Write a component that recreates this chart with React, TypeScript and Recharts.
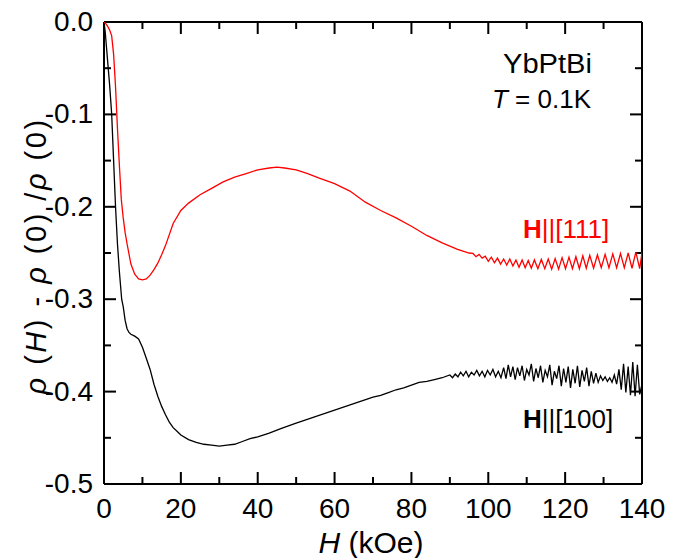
import React from 'react';
import { LineChart, Line, XAxis, YAxis, Customized, ReferenceLine } from 'recharts';

// H || [111] (red)
const redField = [
  0, 0.5, 1, 1.5, 2, 2.5, 3, 3.5, 4, 4.5, 5, 5.5, 6, 7, 8, 9, 10, 11, 12, 13, 14, 15, 16, 18, 20, 22, 25, 28, 31, 34, 37, 40, 43, 45, 47, 50, 53, 56, 60, 64, 68, 72, 76, 80, 84, 88, 92, 95,
  96, 96.8, 97.6, 98.4, 99.2, 100, 100.8, 101.6, 102.4, 103.2, 104, 104.8, 105.6, 106.4, 107.2, 108, 108.8, 109.6, 110.4, 111.2, 112,
  112.9, 113.8, 114.7, 115.6, 116.5, 117.4, 118.3, 119.2, 120.1, 121, 121.9, 122.8, 123.7, 124.6, 125.5, 126.4,
  127.4, 128.4, 129.4, 130.4, 131.4, 132.4, 133.4, 134.4, 135.4, 136.4, 137.4, 138.4, 139.4, 140,
];
const redRho = [
  0, -0.002, -0.005, -0.009, -0.015, -0.035, -0.07, -0.115, -0.155, -0.192, -0.212, -0.228, -0.24, -0.262, -0.273, -0.278, -0.279, -0.278, -0.274, -0.268, -0.261, -0.252, -0.242, -0.218, -0.204, -0.196, -0.187, -0.18, -0.173, -0.168, -0.164, -0.16, -0.158, -0.157, -0.158, -0.16, -0.164, -0.169, -0.175, -0.183, -0.195, -0.204, -0.212, -0.221, -0.231, -0.239, -0.246, -0.25,
  -0.2505, -0.254, -0.2515, -0.2555, -0.2535, -0.259, -0.2545, -0.2605, -0.2555, -0.262, -0.2565, -0.263, -0.2565, -0.264, -0.2575, -0.2655, -0.2575, -0.266, -0.258, -0.2665, -0.2575,
  -0.267, -0.257, -0.267, -0.2565, -0.2675, -0.256, -0.2675, -0.255, -0.267, -0.2545, -0.267, -0.254, -0.267, -0.253, -0.2665, -0.2525,
  -0.2665, -0.252, -0.266, -0.2515, -0.266, -0.251, -0.266, -0.2505, -0.266, -0.25, -0.2665, -0.249, -0.267, -0.2495,
];

// H || [100] (black)
const blackField = [
  0, 0.3, 0.7, 1, 1.5, 2, 2.5, 3, 3.5, 4, 4.6, 5, 5.5, 6, 6.5, 7, 8, 9, 10, 11, 12, 13, 14, 15, 16, 17, 18, 19, 20, 22, 24, 26, 28, 30, 32, 34, 36, 38, 40, 43, 46, 50, 55, 60, 65, 70, 72, 74, 76, 78, 80, 82, 84, 86, 88,
  90, 90.7, 91.4, 92.1, 92.8, 93.5, 94.2, 94.9, 95.6, 96.3, 97, 97.7, 98.4, 99.1, 99.8, 100.5, 101.2, 101.9, 102.6, 103.3,
  104, 104.6, 105.2, 105.8, 106.4, 107, 107.6, 108.2, 108.8, 109.4, 110, 110.6, 111.2, 111.8, 112.4, 113, 113.6, 114.2, 114.8, 115.4,
  116, 116.6, 117.2, 117.8, 118.4, 119, 119.6, 120.2, 120.8, 121.4, 122, 122.6, 123.2, 123.8, 124.4, 125, 125.6, 126.2, 126.8, 127.4,
  128, 128.6, 129.2, 129.8, 130.4, 131, 131.6, 132.2, 132.8, 133.4, 134, 134.6, 135.2, 135.8, 136.4, 137, 137.6, 138.2, 138.8, 139.4, 140,
];
const blackRho = [
  0, -0.01, -0.03, -0.045, -0.07, -0.1, -0.15, -0.2, -0.24, -0.27, -0.3, -0.308, -0.323, -0.332, -0.336, -0.338, -0.34, -0.343, -0.352, -0.364, -0.376, -0.392, -0.405, -0.416, -0.425, -0.433, -0.439, -0.443, -0.447, -0.452, -0.455, -0.457, -0.458, -0.459, -0.458, -0.457, -0.454, -0.451, -0.449, -0.445, -0.44, -0.434, -0.427, -0.42, -0.413, -0.406, -0.404, -0.401, -0.398, -0.396, -0.393, -0.39, -0.389, -0.387, -0.385,
  -0.382, -0.385, -0.381, -0.384, -0.379, -0.383, -0.378, -0.384, -0.379, -0.382, -0.377, -0.383, -0.378, -0.384, -0.377, -0.382, -0.376, -0.384, -0.378, -0.385,
  -0.374, -0.386, -0.371, -0.384, -0.373, -0.387, -0.374, -0.383, -0.372, -0.388, -0.376, -0.382, -0.37, -0.389, -0.375, -0.385, -0.372, -0.39, -0.377, -0.384,
  -0.371, -0.393, -0.378, -0.386, -0.372, -0.394, -0.375, -0.39, -0.373, -0.396, -0.376, -0.391, -0.372, -0.395, -0.377, -0.389, -0.374, -0.394, -0.378, -0.391,
  -0.38, -0.39, -0.383, -0.388, -0.384, -0.389, -0.385, -0.39, -0.382, -0.392, -0.376, -0.398, -0.37, -0.401, -0.373, -0.404, -0.368, -0.405, -0.371, -0.403, -0.392,
];

const xTicks = [0, 10, 20, 30, 40, 50, 60, 70, 80, 90, 100, 110, 120, 130, 140];
const yTicks = [-0.5, -0.45, -0.4, -0.35, -0.3, -0.25, -0.2, -0.15, -0.1, -0.05, 0];

const redData = redField.map((h, i) => ({ h, v: redRho[i] }));
const blackData = blackField.map((h, i) => ({ h, v: blackRho[i] }));

const X_DOMAIN: [number, number] = [0, 140];
const Y_DOMAIN: [number, number] = [-0.5, 0];

const MARGIN = { top: 14, right: 40, bottom: 24, left: 30 };
const Y_AXIS_W = 66;
const X_AXIS_H = 50;
const CHART_W = 674;
const CHART_H = 550;
const PL = MARGIN.left + Y_AXIS_W;
const PT = MARGIN.top;
const PR = CHART_W - MARGIN.right;
const PB = CHART_H - MARGIN.bottom - X_AXIS_H;

const FONT = '"Liberation Sans", Arial, sans-serif';
const MAJOR_PX = 12;
const MINOR_PX = 7;

const isMajorX = (v: number) => Math.round(v) % 20 === 0;
const isMajorY = (v: number) => Math.round(Math.abs(v) * 100) % 10 === 0;

const xLabelTick = (props: any) => {
  const v = props.payload.value as number;
  if (!isMajorX(v)) return <g />;
  return (
    <text x={Number(props.x)} y={Number(props.y) + 34} textAnchor="middle" fontSize={28} fontFamily={FONT} fill="#000" stroke="none">
      {String(v)}
    </text>
  );
};
const yLabelTick = (props: any) => {
  const v = props.payload.value as number;
  if (!isMajorY(v)) return <g />;
  return (
    <text x={Number(props.x) - 11} y={Number(props.y) + 9} textAnchor="end" fontSize={28} fontFamily={FONT} fill="#000" stroke="none">
      {v === 0 ? '0.0' : v.toFixed(1)}
    </text>
  );
};

const xPix = (v: number) => PL + ((v - X_DOMAIN[0]) / (X_DOMAIN[1] - X_DOMAIN[0])) * (PR - PL);
const yPix = (v: number) => PT + ((Y_DOMAIN[1] - v) / (Y_DOMAIN[1] - Y_DOMAIN[0])) * (PB - PT);

// inward tick marks drawn as small filled rectangles
const FrameTicks = () => {
  const marks: React.ReactNode[] = [];
  xTicks.forEach((t, i) => {
    const x = xPix(t);
    const l = isMajorX(t) ? MAJOR_PX : MINOR_PX;
    marks.push(<rect key={`xb${i}`} x={x - 1} y={PB - l} width={2} height={l} fill="#000" />);
    marks.push(<rect key={`xt${i}`} x={x - 1} y={PT} width={2} height={l} fill="#000" />);
  });
  yTicks.forEach((t, i) => {
    const y = yPix(t);
    const l = isMajorY(t) ? MAJOR_PX : MINOR_PX;
    marks.push(<rect key={`yl${i}`} x={PL} y={y - 1} width={l} height={2} fill="#000" />);
    marks.push(<rect key={`yr${i}`} x={PR - l} y={y - 1} width={l} height={2} fill="#000" />);
  });
  return <g>{marks}</g>;
};

const Annotations = () => (
  <g fontFamily={FONT}>
    <FrameTicks />
    <text x={495} y={65} fontSize={27} fill="#000" textLength={89} lengthAdjust="spacingAndGlyphs">YbPtBi</text>
    <text x={484} y={100} fontSize={26} fill="#000">
      <tspan fontStyle="italic">T</tspan> = 0.1K
    </text>
    <text x={515} y={230} fontSize={26} fill="#ff0000">
      <tspan fontWeight="bold">H</tspan>||[111]
    </text>
    <text x={515} y={420} fontSize={26} fill="#000">
      <tspan fontWeight="bold">H</tspan>||[100]
    </text>
    <text x={363} y={545} fontSize={30} fill="#000" textAnchor="middle">
      <tspan fontStyle="italic">H</tspan> (kOe)
    </text>
    <text
      transform="translate(38,248) rotate(-90)"
      x={0}
      y={0}
      fontSize={29}
      fill="#000"
      textAnchor="middle"
      letterSpacing={2.5}
    >
      <tspan fontStyle="italic">ρ</tspan> (<tspan fontStyle="italic">H</tspan>) - <tspan fontStyle="italic">ρ</tspan> (0) /<tspan fontStyle="italic">ρ</tspan> (0)
    </text>
  </g>
);

const frame = { stroke: '#000', strokeWidth: 2, ifOverflow: 'visible' as const, xAxisId: 'b', yAxisId: 'l' };

export default function App() {
  return (
    <LineChart width={CHART_W} height={CHART_H} margin={MARGIN}>
      <XAxis
        xAxisId="b"
        dataKey="h"
        type="number"
        domain={X_DOMAIN}
        ticks={xTicks}
        interval={0}
        orientation="bottom"
        height={X_AXIS_H}
        tickSize={0}
        tickMargin={0}
        tickLine={false}
        axisLine={false}
        tick={xLabelTick}
        allowDataOverflow
      />
      <YAxis
        yAxisId="l"
        type="number"
        domain={Y_DOMAIN}
        ticks={yTicks}
        interval={0}
        orientation="left"
        width={Y_AXIS_W}
        tickSize={0}
        tickMargin={0}
        tickLine={false}
        axisLine={false}
        tick={yLabelTick}
        allowDataOverflow
      />
      <ReferenceLine {...frame} x={X_DOMAIN[0]} />
      <ReferenceLine {...frame} x={X_DOMAIN[1]} />
      <ReferenceLine {...frame} y={Y_DOMAIN[1]} />
      <ReferenceLine {...frame} y={Y_DOMAIN[0]} />
      <Line
        xAxisId="b"
        yAxisId="l"
        data={blackData}
        dataKey="v"
        type="linear"
        stroke="#000000"
        strokeWidth={1.3}
        dot={false}
        activeDot={false}
        isAnimationActive={false}
      />
      <Line
        xAxisId="b"
        yAxisId="l"
        data={redData}
        dataKey="v"
        type="linear"
        stroke="#ff0000"
        strokeWidth={1.3}
        dot={false}
        activeDot={false}
        isAnimationActive={false}
      />
      <Customized component={Annotations} />
    </LineChart>
  );
}
